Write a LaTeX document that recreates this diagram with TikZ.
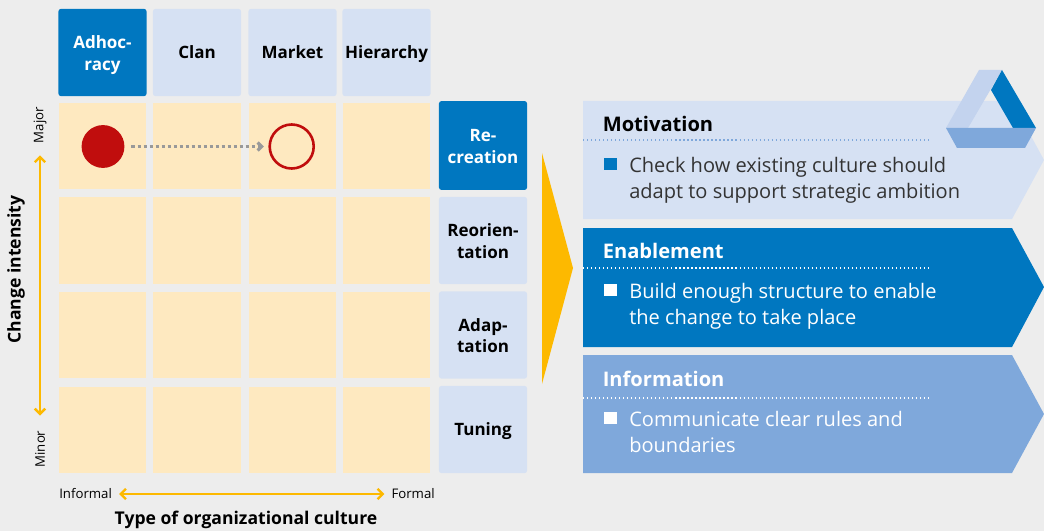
\documentclass[tikz,border=0pt]{standalone}
\usepackage{fontspec}
\setmainfont{Open Sans}
\usetikzlibrary{arrows.meta}
\definecolor{bggray}{HTML}{EDEDED}
\definecolor{dkblue}{HTML}{0077C0}
\definecolor{ltblue}{HTML}{D6E1F3}
\definecolor{mdblue}{HTML}{7FA8DB}
\definecolor{logoblue}{HTML}{C3D3EE}
\definecolor{cream}{HTML}{FEE9C0}
\definecolor{gold}{HTML}{FDB900}
\definecolor{dkred}{HTML}{C00D0D}
\definecolor{bodygray}{HTML}{333333}
\newcommand{\headone}[1]{\rule[-3pt]{0pt}{14.6pt}#1}
\newcommand{\headtwo}[2]{\rule{0pt}{13pt}#1\\#2\rule[-3pt]{0pt}{0pt}}
\tikzset{
    x=0.025cm,y=-0.025cm,
    cell/.style={fill=cream,minimum width=2.18cm,minimum height=2.16cm,inner sep=0pt},
    head/.style={fill=ltblue,rounded corners=0.06cm,minimum width=2.2cm,minimum height=2.18cm,inner sep=0pt,align=center,
        font=\fontsize{12.1}{15.5}\selectfont\bfseries},
    headon/.style={head,fill=dkblue,text=white},
    title/.style={anchor=west,inner sep=0pt,font=\fontsize{14.3}{18}\selectfont\bfseries},
    body/.style={anchor=north west,inner sep=0pt,align=left,font=\fontsize{14.25}{18.5}\selectfont},
    bullet/.style={fill=#1,minimum size=0.315cm,inner sep=0pt},
    small/.style={inner sep=0pt,font=\fontsize{9.4}{11}\selectfont},
    axis/.style={inner sep=0pt,font=\fontsize{12.5}{14}\selectfont\bfseries},
    goldarrow/.style={gold,line width=0.06cm,{Straight Barb[length=0.13cm,width=0.26cm]}-{Straight Barb[length=0.13cm,width=0.26cm]}},
}
\begin{document}
\begin{tikzpicture}
    \useasboundingbox (0,0) rectangle (1044,531);
    \fill[bggray] (0,0) rectangle (1044,531);
    % matrix
    \foreach \x/\c in {102.5/1,197/2,292.5/3,386.5/4}
    \foreach \y/\r in {146/1,240.5/2,335/3,430/4}
    \node[cell] (cell\c\r) at (\x,\y) {};
    % column heads
    \node[headon] (adhocracy) at (102.5,52.5) {\headtwo{Adhoc-}{racy}};
    \node[head] (clan) at (197,52.5) {\headone{Clan}};
    \node[head] (market) at (292.5,52.5) {\headone{Market}};
    \node[head] (hierarchy) at (386.5,52.5) {\headone{Hierarchy}};
    % row heads
    \node[headon,minimum height=2.22cm] (recreation) at (483,145.5) {\headtwo{Re-}{creation}};
    \node[head] (reorientation) at (483,240.5) {\headtwo{Reorien-}{tation}};
    \node[head] (adaptation) at (483,335) {\headtwo{Adap-}{tation}};
    \node[head] (tuning) at (483,429.5) {\headone{Tuning}};
    % circles
    \node[circle,fill=dkred,minimum size=1.07cm,inner sep=0pt] (from) at (103,146.5) {};
    \node[circle,draw=dkred,line width=0.065cm,minimum size=1.1cm,inner sep=0pt] (to) at (291.7,146.5) {};
    \draw[gray!80,line width=0.08cm,dotted,-{Straight Barb[length=0.1cm,width=0.2cm]},shorten <=0.17cm,shorten >=0.11cm] (from) -- (to);
    % axes
    \node[small,rotate=90] (major) at (40,125) {Major};
    \node[small,rotate=90] (minor) at (40,449) {Minor};
    \node[small,anchor=west] (informal) at (59,494) {Informal};
    \node[small,anchor=east] (formal) at (435,494) {Formal};
    \draw[goldarrow,shorten <=0.3cm,shorten >=0.37cm] (major) -- (minor);
    \draw[goldarrow,shorten <=0.17cm,shorten >=0.17cm] (informal) -- (formal);
    \node[axis,rotate=90] (intensity) at (16,269.5) {Change intensity};
    \node[axis] (type) at (246,519.5) {Type of organizational culture};
    % big arrow
    \fill[gold] (542,153) -- (573,268) -- (542,384) -- cycle;
    % chevrons
    \fill[ltblue] (583,101) -- (1012,101) -- (1044,160) -- (1012,219) -- (583,219) -- cycle;
    \fill[dkblue] (583,228) -- (1012,228) -- (1044,287) -- (1012,347) -- (583,347) -- cycle;
    \fill[mdblue] (583,355) -- (1012,355) -- (1044,414) -- (1012,473) -- (583,473) -- cycle;
    % logo
    \fill[logoblue] (979,70) -- (1002,70) -- (968,128) -- (946,128) -- cycle;
    \fill[dkblue] (1002,70) -- (1036,128) -- (1013,128) -- (991,90) -- cycle;
    \fill[mdblue] (946,128) -- (1036,128) -- (1025,148) -- (957,148) -- cycle;
    % texts
    \node[title] (motivation) at (602.5,124) {Motivation};
    \draw[mdblue,line width=0.03cm,dotted] (583,140) -- (932,140);
    \node[bullet=dkblue] (b1) at (610.5,164) {};
    \node[body,text=bodygray] (t1) at (629,156.5) {Check how existing culture should\\adapt to support strategic ambition};
    \node[title,text=white] (enablement) at (602.5,251) {Enablement};
    \draw[white,line width=0.03cm,dotted] (583,268) -- (932,268);
    \node[bullet=white] (b2) at (610.5,290) {};
    \node[body,text=white] (t2) at (629,282.5) {Build enough structure to enable\\the change to take place};
    \node[title,text=white] (information) at (602.5,379) {Information};
    \draw[white,line width=0.03cm,dotted] (583,398) -- (932,398);
    \node[bullet=white] (b3) at (610.5,418) {};
    \node[body,text=white] (t3) at (629,410.5) {Communicate clear rules and\\boundaries};
\end{tikzpicture}
\end{document}
